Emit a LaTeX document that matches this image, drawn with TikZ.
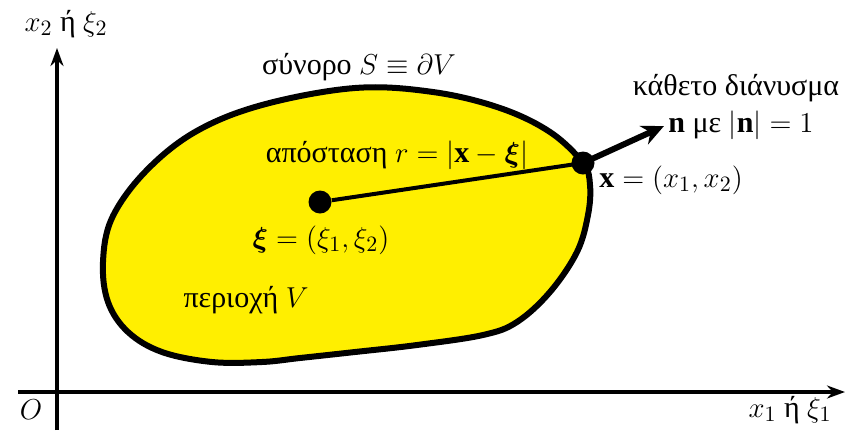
\documentclass[tikz,border=0pt]{standalone}
\usepackage{amsmath}
\usepackage{bm}
\usepackage{fontspec}
\setmainfont{Liberation Serif}
\usetikzlibrary{arrows.meta, positioning}
\definecolor{regionyellow}{RGB}{255,239,0}
\tikzset{
    % Axes
    axarrow/.style={-{Stealth[length=9pt, width=6.5pt]}, line width=1.7pt},
    axlbl/.style={font=\fontsize{15}{18}\selectfont},
    % Region V and boundary S
    rregion/.style={draw=black, fill=regionyellow, line width=3pt},
    rdot/.style={circle, fill=black, inner sep=0pt, minimum size=11.5pt},
    rline/.style={line width=2pt},
    rlbl/.style={font=\fontsize{15}{18}\selectfont, align=center},
    % Normal vector
    narrow/.style={-{Stealth[length=11pt, width=10pt]}, line width=3pt},
}
\begin{document}
\begin{tikzpicture}[x=0.5pt, y=-0.5pt]
\useasboundingbox (0,0) rectangle (853,430);

% axes
\coordinate (xbeg) at (18,392);
\coordinate (xend) at (845,392);
\coordinate (ybeg) at (57,430);
\coordinate (yend) at (57,48);
\draw[axarrow] (xbeg) -- (xend);
\draw[axarrow] (ybeg) -- (yend);
\node[axlbl] (orig) at (31,410) {$O$};
\node[axlbl] (xlbl) at (790,410) {$x_1$ ή $\xi_1$};
\node[axlbl] (ylbl) at (66,24) {$x_2$ ή $\xi_2$};

% region
\draw[rregion] plot[smooth cycle, tension=0.6] coordinates {
    (355,88) (433,92) (500,108) (550,132) (583,163) (590,185) (588,215)
    (577,252) (550,292) (517,322) (483,335) (417,345) (355,352) (300,358)
    (262,362) (212,362) (162,352) (128,332) (108,302) (103,262) (112,218)
    (145,172) (195,132) (262,105)};

\node[rdot] (xi)   at (320,202) {};
\node[rdot] (xpt)  at (583,163) {};
\coordinate (ntip) at (664,126);
\draw[rline] (xi) -- (xpt.center);
\draw[narrow] (xpt.center) -- (ntip);

\node[rlbl] (bnd)   at (359,67)  {σύνορο $S\equiv\partial V$};
\node[rlbl] (dist)  at (397,155) {απόσταση $r=|\mathbf{x}-\bm{\xi}|$};
\node[rlbl] (xilbl) at (321,240) {$\bm{\xi}=(\xi_1,\xi_2)$};
\node[rlbl] (reg)   at (246,300) {περιοχή $V$};
\node[rlbl] (xlab)  at (671,180) {$\mathbf{x}=(x_1,x_2)$};
\node[rlbl] (ntxt)  at (736,88)  {κάθετο διάνυσμα};
\node[rlbl] (nlbl)  at (741,125) {$\mathbf{n}$ με $|\mathbf{n}|=1$};
\end{tikzpicture}
\end{document}
